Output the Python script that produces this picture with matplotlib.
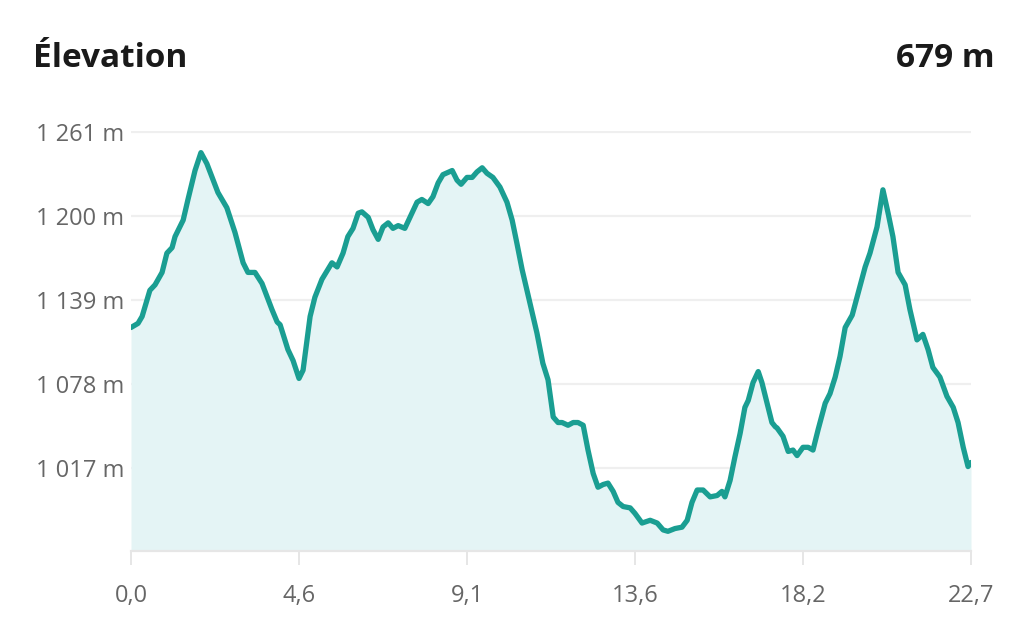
import matplotlib.pyplot as plt

# distance (km) / elevation (m)
distance = [0.00, 0.19, 0.30, 0.51, 0.65, 0.84, 0.97, 1.11, 1.19, 1.41, 1.54, 1.73,
            1.89, 2.05, 2.22, 2.35, 2.59, 2.81, 3.03, 3.16, 3.35, 3.54, 3.81, 3.95,
            4.03, 4.24, 4.38, 4.54, 4.65, 4.84, 4.97, 5.16, 5.43, 5.57, 5.73, 5.86,
            6.00, 6.14, 6.24, 6.41, 6.54, 6.68, 6.81, 6.95, 7.08, 7.22, 7.40, 7.54,
            7.73, 7.86, 8.03, 8.16, 8.30, 8.43, 8.68, 8.81, 8.92, 9.08, 9.22, 9.35,
            9.49, 9.62, 9.78, 9.97, 10.16, 10.30, 10.43, 10.57, 10.78, 10.97, 11.13,
            11.27, 11.41, 11.54, 11.65, 11.81, 11.95, 12.08, 12.22, 12.35, 12.49,
            12.62, 12.76, 12.89, 13.03, 13.16, 13.30, 13.49, 13.62, 13.81, 14.03,
            14.22, 14.38, 14.51, 14.70, 14.89, 15.03, 15.16, 15.30, 15.46, 15.65,
            15.84, 15.97, 16.05, 16.19, 16.32, 16.46, 16.59, 16.68, 16.81, 16.95,
            17.05, 17.19, 17.32, 17.41, 17.46, 17.62, 17.76, 17.89, 18.00, 18.16,
            18.30, 18.43, 18.57, 18.76, 18.89, 19.03, 19.16, 19.30, 19.49, 19.65,
            19.84, 19.97, 20.16, 20.32, 20.46, 20.59, 20.73, 20.92, 21.05, 21.24,
            21.40, 21.54, 21.67, 21.86, 22.05, 22.22, 22.35, 22.49, 22.62, 22.70]
elevation = [1119, 1122, 1127, 1146, 1150, 1159, 1173, 1177, 1185, 1197, 1212, 1233,
             1246, 1238, 1226, 1217, 1206, 1188, 1166, 1159, 1159, 1151, 1132, 1123,
             1121, 1103, 1095, 1082, 1088, 1127, 1141, 1154, 1166, 1163, 1173, 1185,
             1191, 1202, 1203, 1199, 1190, 1183, 1192, 1195, 1191, 1193, 1191, 1199,
             1210, 1212, 1209, 1214, 1224, 1230, 1233, 1226, 1223, 1228, 1228, 1232,
             1235, 1231, 1228, 1221, 1210, 1197, 1180, 1161, 1137, 1115, 1093,
             1081, 1054, 1050, 1050, 1048, 1050, 1050, 1048, 1030, 1013,
             1003, 1005, 1006, 1000, 992, 989, 988, 984, 977, 979,
             977, 972, 971, 973, 974, 979, 992, 1001, 1001, 996,
             997, 1000, 996, 1008, 1025, 1042, 1061, 1066, 1079, 1087,
             1079, 1064, 1050, 1047, 1046, 1040, 1029, 1030, 1026, 1032,
             1032, 1030, 1045, 1064, 1071, 1083, 1098, 1119, 1128, 1144,
             1163, 1173, 1192, 1219, 1202, 1185, 1159, 1150, 1132, 1110,
             1114, 1103, 1090, 1083, 1069, 1061, 1050, 1032, 1018, 1021]

y_ticks = [1017, 1078, 1139, 1200, 1261]
y_labels = ['1 017 m', '1 078 m', '1 139 m', '1 200 m', '1 261 m']
x_labels = ['0,0', '4,6', '9,1', '13,6', '18,2', '22,7']
total_km = 22.7
y_min = 956.7
title = 'Élevation'
gain = '679 m'

plt.rcParams['font.family'] = ['Open Sans', 'DejaVu Sans']

fig = plt.figure(figsize=(10.24, 6.22), dpi=100)
ax = fig.add_axes([131 / 1024, 1 - 551 / 622, 840 / 1024, (551 - 131) / 622])

ax.fill_between(distance, elevation, y_min, color='#e4f4f5', lw=0)
ax.plot(distance, elevation, color='#1a9e92', lw=3.8, solid_capstyle='round',
        solid_joinstyle='round', zorder=3)

ax.set_xlim(0, total_km)
ax.set_ylim(y_min, 1261.7)

ax.set_yticks(y_ticks)
ax.set_yticklabels(y_labels)
ax.yaxis.grid(True, color='#efefef', lw=1.6)
ax.set_axisbelow(True)
ax.tick_params(axis='y', length=0, pad=5, labelsize=17, labelcolor='#666666')

ax.set_xticks([total_km * i / 5 for i in range(6)])
ax.set_xticklabels(x_labels)
ax.tick_params(axis='x', length=10, width=1.4, color='#e6e6e6', pad=14,
               labelsize=17, labelcolor='#666666')

for side in ['top', 'right', 'left']:
    ax.spines[side].set_visible(False)
ax.spines['bottom'].set_color('#e6e6e6')
ax.spines['bottom'].set_linewidth(1.6)

fig.text(33 / 1024, 1 - 67 / 622, title, fontsize=24, fontweight='bold',
         color='#1a1a1a', va='baseline', ha='left')
fig.text(995 / 1024, 1 - 67 / 622, gain, fontsize=24, fontweight='bold',
         color='#1a1a1a', va='baseline', ha='right')

fig.savefig('out.png', dpi=100, facecolor='white')
